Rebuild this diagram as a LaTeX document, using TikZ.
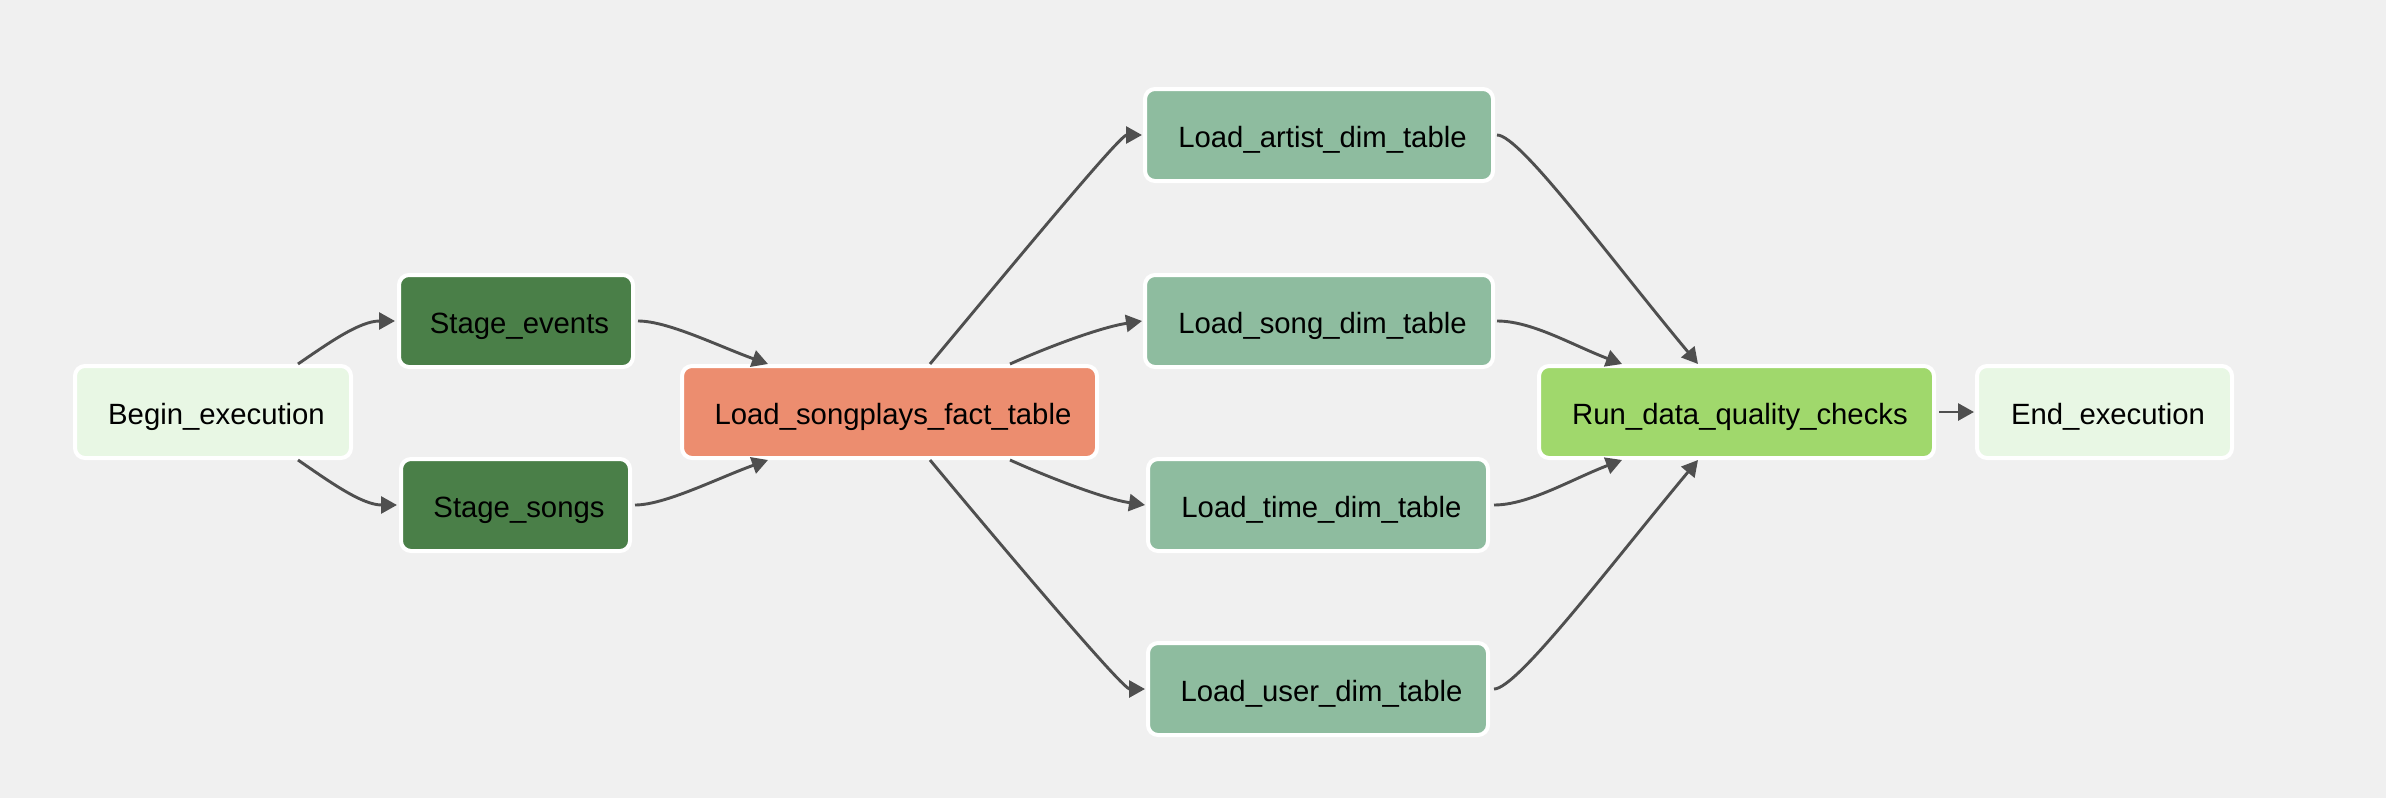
\documentclass[tikz,border=0pt]{standalone}
\usepackage{fontspec}
\setmainfont{Liberation Sans}
\usetikzlibrary{arrows.meta,calc}

\definecolor{canvas}{HTML}{F0F0F0}
\definecolor{dummyop}{HTML}{E8F7E4}
\definecolor{stageop}{HTML}{4A7F48}
\definecolor{factop}{HTML}{EC8D6F}
\definecolor{dimop}{HTML}{8EBC9F}
\definecolor{checkop}{HTML}{A0D86C}
\definecolor{edgegray}{HTML}{4F4F4F}

\tikzset{
  task/.style={draw=white, line width=4pt, rounded corners=10pt,
    minimum height=92pt, inner sep=0pt, text=black,
    text height=30pt, text depth=6pt,
    font=\fontsize{29.3pt}{35pt}\selectfont,
    execute at begin node=\hspace*{7pt}},
  flow/.style={draw=edgegray, line width=2.9pt,
    -{Triangle[length=16pt,width=17pt]}},
}

\begin{document}
\begin{tikzpicture}[x=1pt,y=-1pt]
  % canvas
  \path[fill=canvas] (0,0) rectangle (2386,798);

  % tasks
  \node[task, fill=dummyop, minimum width=276pt] (begin)   at (213,412)    {Begin\_execution};
  \node[task, fill=stageop, minimum width=234pt] (sevents) at (516,321)    {Stage\_events};
  \node[task, fill=stageop, minimum width=229pt] (ssongs)  at (515.5,505)  {Stage\_songs};
  \node[task, fill=factop,  minimum width=415pt] (fact)    at (889.5,412)  {Load\_songplays\_fact\_table};
  \node[task, fill=dimop,   minimum width=348pt] (artist)  at (1319,135)   {Load\_artist\_dim\_table};
  \node[task, fill=dimop,   minimum width=348pt] (song)    at (1319,321)   {Load\_song\_dim\_table};
  \node[task, fill=dimop,   minimum width=340pt] (time)    at (1318,505)   {Load\_time\_dim\_table};
  \node[task, fill=dimop,   minimum width=340pt] (user)    at (1318,689)   {Load\_user\_dim\_table};
  \node[task, fill=checkop, minimum width=395pt] (run)     at (1736.5,412) {Run\_data\_quality\_checks};
  \node[task, fill=dummyop, minimum width=255pt] (end)     at (2104.5,412) {End\_execution};

  % dependencies
  \draw[flow] ($(begin.north)+(85,0)$) .. controls +(32,-22) and +(-35,0) .. ($(sevents.west)+(-2,0)$);
  \draw[flow] ($(begin.south)+(85,0)$) .. controls +(32,22) and +(-35,0) .. ($(ssongs.west)+(-2,0)$);

  \draw[flow] ($(sevents.east)+(3,0)$) .. controls +(30,0) and +(-50,-18) .. ($(fact.north west)+(88,0)$);
  \draw[flow] ($(ssongs.east)+(3,0)$) .. controls +(30,0) and +(-50,18) .. ($(fact.south west)+(88,0)$);

  \draw[flow] ($(fact.north west)+(250,0)$) .. controls +(90,-108) and +(-22,0) .. ($(artist.west)+(-1,0)$);
  \draw[flow] ($(fact.north west)+(330,0)$) .. controls +(40,-18) and +(-40,6) .. ($(song.west)+(-1,0)$);
  \draw[flow] ($(fact.south west)+(330,0)$) .. controls +(40,18) and +(-40,-6) .. ($(time.west)+(-1,0)$);
  \draw[flow] ($(fact.south west)+(250,0)$) .. controls +(90,108) and +(-22,0) .. ($(user.west)+(-1,0)$);

  \draw[flow] ($(artist.east)+(2,0)$) .. controls +(23,0) and +(-90,-108) .. ($(run.north west)+(161,0)$);
  \draw[flow] ($(song.east)+(2,0)$) .. controls +(35,0) and +(-50,-19) .. ($(run.north west)+(85,0)$);
  \draw[flow] ($(time.east)+(4,0)$) .. controls +(35,0) and +(-50,19) .. ($(run.south west)+(85,0)$);
  \draw[flow] ($(user.east)+(4,0)$) .. controls +(23,0) and +(-90,108) .. ($(run.south west)+(161,0)$);

  \draw[flow] ($(run.east)+(3,0)$) -- ($(end.west)+(-1,0)$);
\end{tikzpicture}
\end{document}
